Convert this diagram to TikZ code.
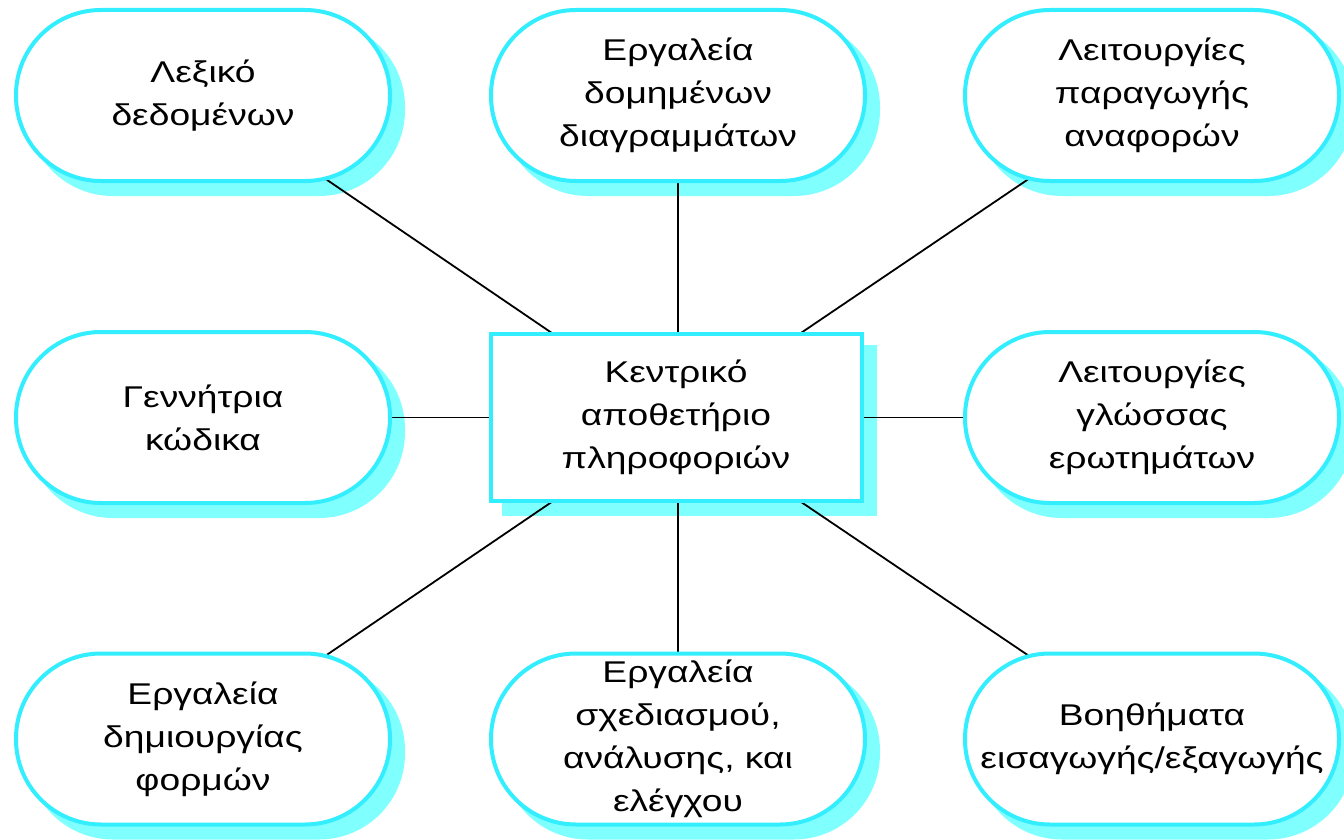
\documentclass[tikz,border=0pt]{standalone}
\usepackage{fontspec}
\setmainfont{Liberation Sans}[FakeStretch=1.24]
\usetikzlibrary{backgrounds}
\definecolor{bordc}{RGB}{51,238,255}
\definecolor{shadc}{RGB}{128,255,255}
\tikzset{
  every node/.style={font=\fontsize{30pt}{43pt}\selectfont, align=center, outer sep=0pt, inner sep=0pt},
  pill/.style={draw=bordc, line width=4pt, fill=white, rounded corners=85pt,
    minimum width=374pt, minimum height=171pt},
  hub/.style={draw=bordc, line width=4pt, fill=white, minimum width=371pt, minimum height=167pt},
  pillshadow/.style={fill=shadc, rounded corners=86pt},
  hubshadow/.style={fill=shadc},
  link/.style={draw=black, line width=1.8pt}
}
\begin{document}
\begin{tikzpicture}[x=1pt,y=-1pt]
\useasboundingbox (0,0) rectangle (1344,840);
\node[hub] (c) at (676,417.5) {Κεντρικό\\αποθετήριο\\πληροφοριών};
\node[pill] (tl) at (203,95.5) {Λεξικό\\δεδομένων};
\node[pill] (tm) at (678,95.5) {Εργαλεία\\δομημένων\\διαγραμμάτων};
\node[pill] (tr) at (1152,95.5) {Λειτουργίες\\παραγωγής\\αναφορών};
\node[pill] (ml) at (203,417.5) {Γεννήτρια\\κώδικα};
\node[pill] (mr) at (1152,417.5) {Λειτουργίες\\γλώσσας\\ερωτημάτων};
\node[pill] (bl) at (203,739) {Εργαλεία\\δημιουργίας\\φορμών};
\node[pill] (bm) at (678,739) {Εργαλεία\\σχεδιασμού,\\ανάλυσης, και\\ελέγχου};
\node[pill] (br) at (1152,739) {Βοηθήματα\\εισαγωγής/εξαγωγής};
\begin{pgfonlayer}{background}
  \foreach \n in {tl,tm,tr,ml,mr,bl,bm,br}{
    \fill[pillshadow] ([shift={(11pt,-15pt)}]\n.south west) rectangle ([shift={(15pt,-11pt)}]\n.north east);
  }
  \fill[hubshadow] ([shift={(11pt,-15pt)}]c.south west) rectangle ([shift={(15pt,-11pt)}]c.north east);
  \draw[link] (tl.center) -- (c.center);
  \draw[link] (tr.center) -- (c.center);
  \draw[link] (bl.center) -- (c.center);
  \draw[link] (br.center) -- (c.center);
  \draw[link] (ml.center) -- (mr.center);
  \draw[link] (tm.center) -- (tm.center |- c.center);
  \draw[link] (bm.center) -- (bm.center |- c.center);
\end{pgfonlayer}
\end{tikzpicture}
\end{document}
